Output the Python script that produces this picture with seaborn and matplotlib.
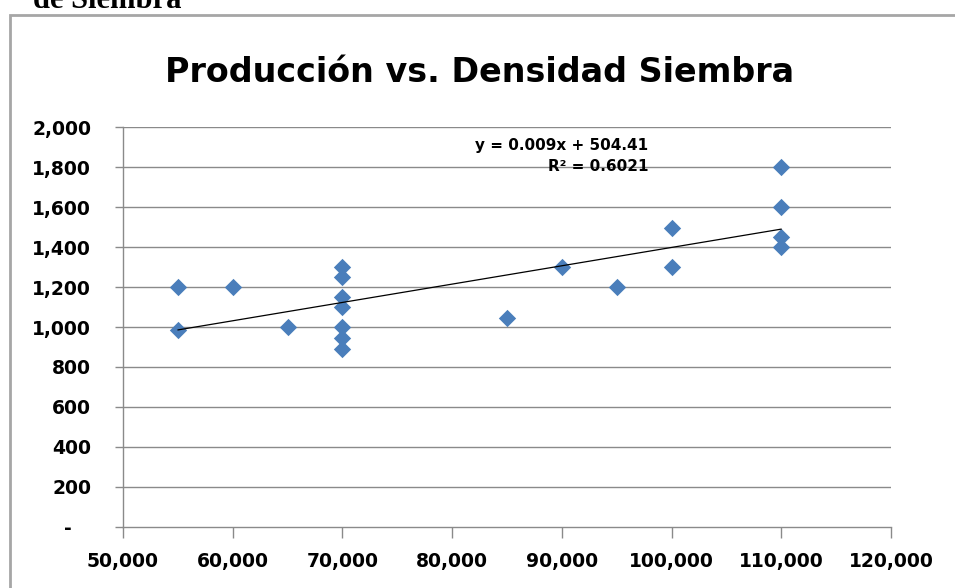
import matplotlib
matplotlib.use("Agg")
import matplotlib.pyplot as plt
from matplotlib.patches import Rectangle
from matplotlib.ticker import FuncFormatter
import pandas as pd
import seaborn as sns

# plant density (plants/ha) and yield
densidad = [55000, 55000, 60000, 65000,
            70000, 70000, 70000, 70000, 70000, 70000, 70000,
            85000, 90000, 95000, 100000, 100000,
            110000, 110000, 110000, 110000]
produccion = [1200, 985, 1200, 1000,
              1300, 1250, 1150, 1100, 1000, 945, 890,
              1045, 1300, 1200, 1495, 1300,
              1800, 1600, 1450, 1400]

titulo = "Producción vs. Densidad Siembra"
ecuacion = "y = 0.009x + 504.41\nR² = 0.6021"
x_ticks = [50000, 60000, 70000, 80000, 90000, 100000, 110000, 120000]
y_ticks = list(range(0, 2001, 200))

df = pd.DataFrame({"densidad": densidad, "produccion": produccion})

sns.set_theme(style="white")
plt.rcParams["font.family"] = ["DejaVu Sans"]
plt.rcParams["text.color"] = "black"

W, H = 955, 588
fig = plt.figure(figsize=(W / 100, H / 100), dpi=100)
ax = fig.add_axes([123 / W, 1 - 527 / H, (891 - 123) / W, (527 - 127) / H])

gray = "#8a8a8a"
for v in y_ticks[1:]:
    ax.axhline(v, color=gray, lw=1.0, zorder=0)

sns.scatterplot(data=df, x="densidad", y="produccion", marker="D", s=78,
                color="#4a7ebb", linewidth=0, ax=ax, zorder=3)
sns.regplot(data=df, x="densidad", y="produccion", scatter=False, ci=None,
            truncate=True, color="black", line_kws={"lw": 0.9, "zorder": 4}, ax=ax)

ax.set_xlim(50000, 120000)
ax.set_ylim(0, 2000)
ax.set_xticks(x_ticks)
ax.set_yticks(y_ticks)
ax.xaxis.set_major_formatter(FuncFormatter(lambda v, p: f"{v:,.0f}"))
ax.yaxis.set_major_formatter(FuncFormatter(lambda v, p: "-   " if v == 0 else f"{v:,.0f}"))
ax.set_xlabel("")
ax.set_ylabel("")

for s in ["top", "right"]:
    ax.spines[s].set_visible(False)
for s in ["left", "bottom"]:
    ax.spines[s].set_color(gray)
    ax.spines[s].set_linewidth(1.0)
ax.tick_params(axis="both", direction="out", colors=gray, width=1.0,
               labelcolor="black", labelsize=13.5)
ax.tick_params(axis="y", length=6, pad=17, left=True)
ax.tick_params(axis="x", length=8, pad=10, bottom=True)
for lab in ax.get_xticklabels() + ax.get_yticklabels():
    lab.set_fontweight("bold")

fig.text(480 / W, 1 - 72 / H, titulo, ha="center", va="center",
         fontsize=24, fontweight="bold", color="black")
fig.text(648 / W, 1 - 156 / H, ecuacion, ha="right", va="center", color="black",
         fontsize=11, fontweight="bold", linespacing=1.5, multialignment="right")

# cut-off caption above the chart and the chart border
fig.text(33 / W, 1 - 8 / H, "de Siembra", ha="left", va="baseline", color="black",
         fontsize=22, fontweight="bold", family="Liberation Serif")
fig.patches.append(Rectangle((10 / W, -0.1), 1.2, 1.1 - 15 / H,
                             transform=fig.transFigure, fill=False,
                             edgecolor="#a6a6a6", lw=2.0))

fig.savefig("out.png", dpi=100)
